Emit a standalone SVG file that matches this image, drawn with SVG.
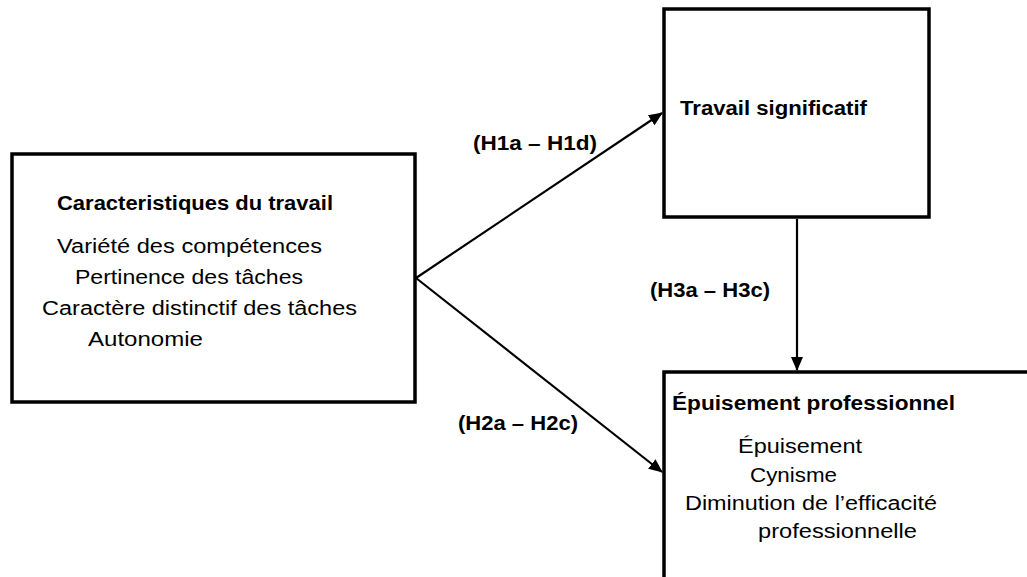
<svg xmlns="http://www.w3.org/2000/svg" width="1027" height="577" viewBox="0 0 1027 577">
<style>
.box{fill:#fff;stroke:#000;stroke-width:3.5}
.t{font-family:"Liberation Sans",Arial,sans-serif;font-size:20px;fill:#000}
.b{font-weight:bold}
.c{stroke:#000;stroke-width:2.2;fill:none}
</style>
<defs>
<marker id="ah" markerWidth="14" markerHeight="12" refX="13" refY="6" orient="auto" markerUnits="userSpaceOnUse">
<path d="M0,0 L14,6 L0,12 Z" fill="#000"/>
</marker>
</defs>
<rect width="1027" height="577" fill="#fff"/>
<g id="node-caracteristiques">
<rect class="box" x="12" y="154" width="403" height="248"/>
<text class="t b" x="57" y="210" textLength="276" lengthAdjust="spacingAndGlyphs">Caracteristiques du travail</text>
<text class="t" x="57" y="253" textLength="265" lengthAdjust="spacingAndGlyphs">Variété des compétences</text>
<text class="t" x="75" y="284" textLength="228" lengthAdjust="spacingAndGlyphs">Pertinence des tâches</text>
<text class="t" x="42" y="315" textLength="315" lengthAdjust="spacingAndGlyphs">Caractère distinctif des tâches</text>
<text class="t" x="88" y="346" textLength="115" lengthAdjust="spacingAndGlyphs">Autonomie</text>
</g>
<g id="node-travail">
<rect class="box" x="664" y="9" width="265" height="208"/>
<text class="t b" x="680" y="115" textLength="187" lengthAdjust="spacingAndGlyphs">Travail significatif</text>
</g>
<g id="node-epuisement">
<rect class="box" x="664" y="372" width="380" height="230"/>
<text class="t b" x="672" y="410" textLength="283" lengthAdjust="spacingAndGlyphs">Épuisement professionnel</text>
<text class="t" x="738" y="453" textLength="124" lengthAdjust="spacingAndGlyphs">Épuisement</text>
<text class="t" x="750" y="482" textLength="87" lengthAdjust="spacingAndGlyphs">Cynisme</text>
<text class="t" x="685" y="510" textLength="252" lengthAdjust="spacingAndGlyphs">Diminution de l’efficacité</text>
<text class="t" x="758" y="538" textLength="159" lengthAdjust="spacingAndGlyphs">professionnelle</text>
</g>
<g id="connectors">
<line class="c" x1="416" y1="278" x2="662" y2="113" marker-end="url(#ah)"/>
<line class="c" x1="416" y1="278" x2="662" y2="472" marker-end="url(#ah)"/>
<line class="c" x1="797" y1="219" x2="797" y2="370" marker-end="url(#ah)"/>
<text class="t b" x="473" y="150" textLength="124" lengthAdjust="spacingAndGlyphs">(H1a – H1d)</text>
<text class="t b" x="458" y="430" textLength="120" lengthAdjust="spacingAndGlyphs">(H2a – H2c)</text>
<text class="t b" x="650" y="297" textLength="120" lengthAdjust="spacingAndGlyphs">(H3a – H3c)</text>
</g>
</svg>
